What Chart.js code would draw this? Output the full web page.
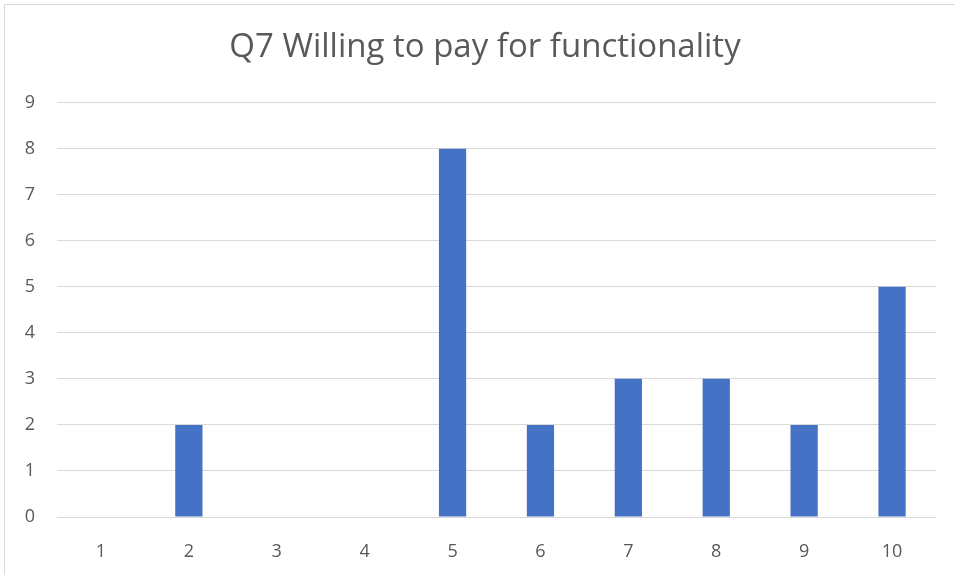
<!DOCTYPE html>
<html>
<head>
<meta charset="utf-8">
<script src="https://cdn.jsdelivr.net/npm/chart.js@4/dist/chart.umd.min.js"></script>
<style>
    html, body { margin: 0; padding: 0; background: #fff; overflow: hidden; }
    #frame {
        position: absolute; left: 4px; top: 4px; width: 1000px; height: 620px;
        border-left: 1px solid #d9d9d9; border-top: 1px solid #d9d9d9;
    }
    #wrap { position: absolute; left: 0; top: 0; width: 955px; height: 575px; }
</style>
</head>
<body>
<div id="frame"></div>
<div id="wrap"><canvas id="chart"></canvas></div>
<script>
// ===== DATA =====
const CATEGORIES = ['1', '2', '3', '4', '5', '6', '7', '8', '9', '10'];
const COUNTS = [0, 2, 0, 0, 8, 2, 3, 3, 2, 5];
const Y_MAX = 9;
const TITLE = 'Q7 Willing to pay for functionality';

const FONT = "'Open Sans', 'Noto Sans', sans-serif";
const TEXT_COLOR = '#595959';

// nudge the title box so it sits centred on the whole frame, like the original
const titleShift = {
    id: 'titleShift',
    afterLayout(chart) {
        if (chart.titleBlock) {
            chart.titleBlock.left += 17;
            chart.titleBlock.right += 17;
        }
    }
};

new Chart(document.getElementById('chart').getContext('2d'), {
    type: 'bar',
    data: {
        labels: CATEGORIES,
        datasets: [{
            data: COUNTS,
            backgroundColor: '#4472C4',
            borderWidth: 0,
            categoryPercentage: 1,
            barPercentage: 0.31
        }]
    },
    options: {
        responsive: true,
        maintainAspectRatio: false,
        animation: false,
        layout: { padding: { top: 28, right: 19, bottom: 0, left: 0 } },
        plugins: {
            legend: { display: false },
            tooltip: { enabled: false },
            title: {
                display: true,
                text: TITLE,
                color: TEXT_COLOR,
                font: { family: FONT, size: 33, weight: 'normal' },
                padding: { top: 0, bottom: 35 }
            }
        },
        scales: {
            x: {
                grid: { display: false },
                border: { display: false },
                ticks: {
                    color: TEXT_COLOR,
                    font: { family: FONT, size: 18 },
                    padding: 16
                },
                afterFit: scale => { scale.height = 58; }
            },
            y: {
                min: 0,
                max: Y_MAX,
                grid: { color: '#d9d9d9', lineWidth: 1, drawTicks: false },
                border: { display: false },
                ticks: {
                    stepSize: 1,
                    color: TEXT_COLOR,
                    font: { family: FONT, size: 18 },
                    padding: 22
                },
                afterFit: scale => { scale.width = 57; }
            }
        }
    },
    plugins: [titleShift]
});
</script>
</body>
</html>
